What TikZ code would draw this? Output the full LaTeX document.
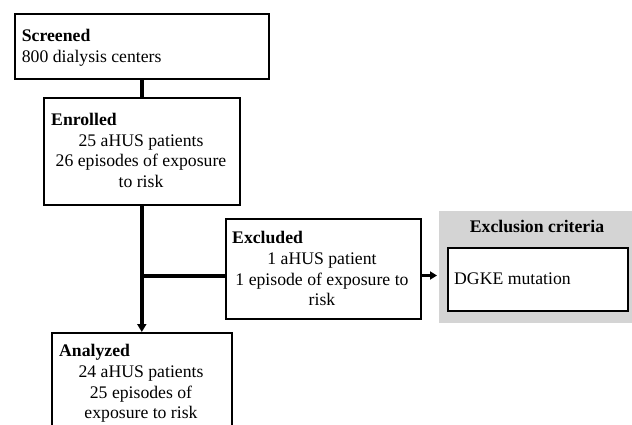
\documentclass[tikz,border=0pt]{standalone}
\usepackage{fontspec}
\setmainfont{Liberation Serif}
\usetikzlibrary{arrows.meta}
\definecolor{critgray}{RGB}{212,212,212}
\begin{document}
\begin{tikzpicture}[x=1pt,y=-1pt,
  box/.style={draw, line width=1.6pt, inner sep=0pt, anchor=north west},
  txt/.style={font=\fontsize{17.7}{20.5}\selectfont, inner sep=0pt},
  hd/.style={inner sep=0pt, font=\fontsize{17.7}{20.5}\selectfont\bfseries, anchor=base west},
  ln/.style={txt, anchor=base},
  lnw/.style={txt, anchor=base west},
  conn/.style={line width=4pt},
]
\clip (0,0) rectangle (632,425);
\fill[white] (0,0) rectangle (632,425);

% boxes
\node[box, minimum width=254pt, minimum height=65pt] (scr) at (14,13) {};
\node[box, minimum width=196pt, minimum height=107pt] (enr) at (43,97) {};
\node[box, minimum width=195pt, minimum height=100pt] (exc) at (225,218) {};
\node[fill=critgray, inner sep=0pt, anchor=north west, minimum width=200pt, minimum height=112pt] (gray) at (439,211) {};
\node[box, fill=white, minimum width=180pt, minimum height=63pt] (crit) at (447,247) {};
\node[box, minimum width=180pt, minimum height=118pt] (ana) at (51,332) {};

% connectors
\coordinate (br) at (141,275.5);
\draw[conn] (scr.south) -- (enr.north);
\draw[conn, -{Triangle[width=9pt,length=8pt]}] (enr.south) -- (ana.north);
\draw[conn] (br) -- (br -| exc.west);
\draw[line width=2.6pt, -{Triangle[width=8pt,length=7pt]}] (br -| exc.east) -- ([xshift=-2pt]br -| gray.west);

% texts
\node[hd] (t1) at (21.7,41.5) {Screened};
\node[lnw] (t2) at (21.7,62.7) {800 dialysis centers};

\node[hd] (t3) at (51,126) {Enrolled};
\node[ln] (t4) at (141,146.5) {25 aHUS patients};
\node[ln] (t5) at (141,166.7) {26 episodes of exposure};
\node[ln] (t6) at (141,187) {to risk};

\node[hd] (t7) at (232,243) {Excluded};
\node[ln] (t8) at (322,264) {1 aHUS patient};
\node[ln] (t9) at (322,285) {1 episode of exposure to};
\node[ln] (t10) at (322,305) {risk};

\node[hd, anchor=base] (t11) at (537,232.7) {Exclusion criteria};
\node[lnw] (t12) at (454,284.3) {DGKE mutation};

\node[hd] (t13) at (59,356.7) {Analyzed};
\node[ln] (t14) at (141,377.7) {24 aHUS patients};
\node[ln] (t15) at (141,398) {25 episodes of};
\node[ln] (t16) at (141,418) {exposure to risk};
\end{tikzpicture}
\end{document}
